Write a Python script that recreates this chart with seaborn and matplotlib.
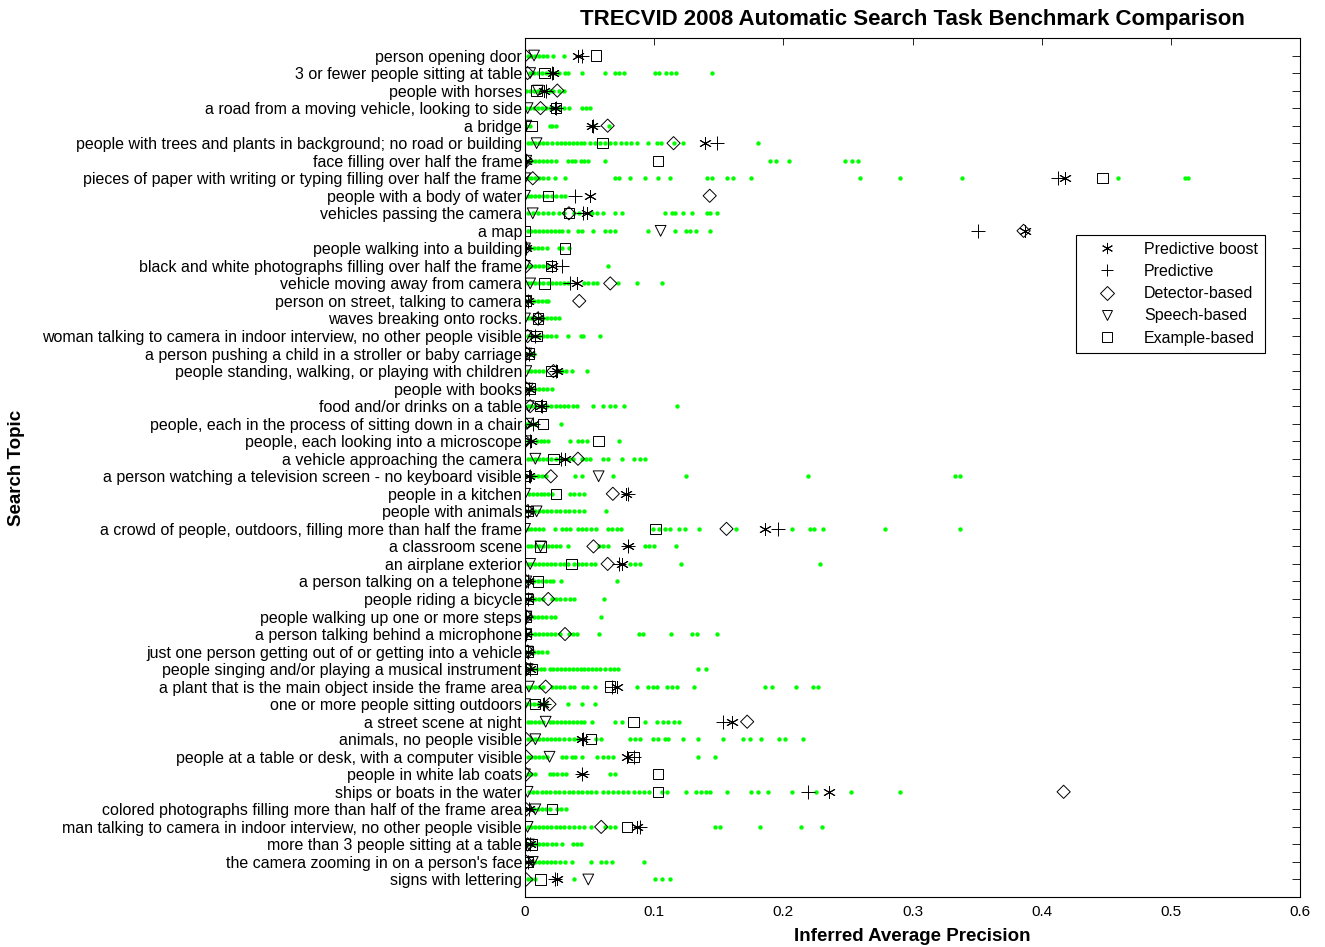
import numpy as np
import pandas as pd
import matplotlib
matplotlib.use("Agg")
import matplotlib.pyplot as plt
from matplotlib.lines import Line2D
import seaborn as sns

topics = [
    "person opening door",
    "3 or fewer people sitting at table",
    "people with horses",
    "a road from a moving vehicle, looking to side",
    "a bridge",
    "people with trees and plants in background; no road or building",
    "face filling over half the frame",
    "pieces of paper with writing or typing filling over half the frame",
    "people with a body of water",
    "vehicles passing the camera",
    "a map",
    "people walking into a building",
    "black and white photographs filling over half the frame",
    "vehicle moving away from camera",
    "person on street, talking to camera",
    "waves breaking onto rocks.",
    "woman talking to camera in indoor interview, no other people visible",
    "a person pushing a child in a stroller or baby carriage",
    "people standing, walking, or playing with children",
    "people with books",
    "food and/or drinks on a table",
    "people, each in the process of sitting down in a chair",
    "people, each looking into a microscope",
    "a vehicle approaching the camera",
    "a person watching a television screen - no keyboard visible",
    "people in a kitchen",
    "people with animals",
    "a crowd of people, outdoors, filling more than half the frame",
    "a classroom scene",
    "an airplane exterior",
    "a person talking on a telephone",
    "people riding a bicycle",
    "people walking up one or more steps",
    "a person talking behind a microphone",
    "just one person getting out of or getting into a vehicle",
    "people singing and/or playing a musical instrument",
    "a plant that is the main object inside the frame area",
    "one or more people sitting outdoors",
    "a street scene at night",
    "animals, no people visible",
    "people at a table or desk, with a computer visible",
    "people in white lab coats",
    "ships or boats in the water",
    "colored photographs filling more than half of the frame area",
    "man talking to camera in indoor interview, no other people visible",
    "more than 3 people sitting at a table",
    "the camera zooming in on a person's face",
    "signs with lettering",
]

predictive_boost = [0.041, 0.022, 0.015, 0.023, 0.052, 0.139, 0.001, 0.418, 0.050, 0.048,
                    0.387, 0.001, 0.021, 0.040, 0.002, 0.010, 0.008, 0.003, 0.025, 0.003,
                    0.012, 0.006, 0.005, 0.031, 0.003, 0.078, 0.002, 0.186, 0.080, 0.075,
                    0.002, 0.002, 0.001, 0.001, 0.002, 0.004, 0.071, 0.014, 0.160, 0.044,
                    0.079, 0.044, 0.235, 0.003, 0.087, 0.004, 0.002, 0.025]
predictive = [0.044, 0.021, 0.016, 0.024, 0.053, 0.149, 0.001, 0.413, 0.039, 0.045,
              0.351, 0.001, 0.029, 0.035, 0.002, 0.010, 0.008, 0.003, 0.024, 0.003,
              0.013, 0.006, 0.004, 0.028, 0.004, 0.080, 0.002, 0.196, 0.080, 0.073,
              0.002, 0.002, 0.001, 0.001, 0.002, 0.004, 0.067, 0.015, 0.153, 0.045,
              0.084, 0.044, 0.219, 0.003, 0.089, 0.004, 0.002, 0.023]
detector_based = [0.000, 0.002, 0.025, 0.012, 0.064, 0.115, 0.001, 0.006, 0.143, 0.034,
                  0.386, 0.000, 0.001, 0.066, 0.042, 0.010, 0.002, 0.001, 0.022, 0.001,
                  0.004, 0.000, 0.000, 0.041, 0.020, 0.068, 0.002, 0.156, 0.053, 0.064,
                  0.001, 0.018, 0.001, 0.031, 0.002, 0.001, 0.016, 0.019, 0.172, 0.001,
                  0.001, 0.001, 0.417, 0.001, 0.059, 0.002, 0.001, 0.001]
speech_based = [0.007, 0.004, 0.010, 0.002, 0.001, 0.009, 0.001, 0.000, 0.000, 0.006,
                0.105, 0.000, 0.000, 0.004, 0.001, 0.000, 0.001, 0.001, 0.001, 0.002,
                0.003, 0.002, 0.001, 0.008, 0.057, 0.000, 0.009, 0.000, 0.012, 0.004,
                0.001, 0.002, 0.001, 0.001, 0.002, 0.002, 0.003, 0.000, 0.016, 0.008,
                0.019, 0.000, 0.002, 0.008, 0.002, 0.003, 0.006, 0.049]
example_based = [0.055, 0.015, 0.009, 0.024, 0.005, 0.060, 0.103, 0.447, 0.018, 0.034,
                 0.000, 0.031, 0.020, 0.015, 0.001, 0.010, 0.009, 0.003, 0.020, 0.004,
                 0.012, 0.014, 0.057, 0.022, 0.001, 0.024, 0.002, 0.101, 0.012, 0.036,
                 0.010, 0.002, 0.001, 0.001, 0.002, 0.005, 0.066, 0.008, 0.084, 0.051,
                 0.084, 0.103, 0.103, 0.021, 0.079, 0.005, 0.002, 0.012]

other_runs = [
    [0.002, 0.005, 0.008, 0.011, 0.014, 0.017, 0.022, 0.030],
    [0.004, 0.007, 0.010, 0.013, 0.016, 0.019, 0.023, 0.026, 0.031, 0.033, 0.044, 0.062, 0.070, 0.073, 0.077, 0.101, 0.104, 0.109, 0.113, 0.117, 0.145],
    [0.001, 0.004, 0.007, 0.010, 0.013, 0.016, 0.019, 0.022, 0.026, 0.030],
    [0.001, 0.004, 0.007, 0.010, 0.013, 0.016, 0.019, 0.022, 0.026, 0.030, 0.034, 0.044, 0.047, 0.050],
    [0.001, 0.004, 0.019, 0.021, 0.024, 0.053, 0.065],
    [0.002, 0.005, 0.008, 0.011, 0.014, 0.017, 0.021, 0.025, 0.028, 0.031, 0.034, 0.037, 0.040, 0.043, 0.046, 0.050, 0.054, 0.058, 0.062, 0.066, 0.070, 0.074, 0.078, 0.082, 0.087, 0.095, 0.102, 0.105, 0.115, 0.122, 0.180],
    [0.002, 0.005, 0.008, 0.011, 0.014, 0.017, 0.020, 0.024, 0.033, 0.036, 0.039, 0.043, 0.046, 0.049, 0.062, 0.190, 0.194, 0.204, 0.248, 0.253, 0.258],
    [0.002, 0.005, 0.008, 0.011, 0.014, 0.018, 0.023, 0.031, 0.070, 0.073, 0.081, 0.093, 0.103, 0.112, 0.141, 0.145, 0.156, 0.161, 0.175, 0.259, 0.290, 0.338, 0.459, 0.511, 0.513],
    [0.002, 0.005, 0.008, 0.011, 0.014, 0.017, 0.021, 0.024, 0.028, 0.031],
    [0.002, 0.006, 0.010, 0.014, 0.018, 0.022, 0.026, 0.030, 0.038, 0.042, 0.052, 0.056, 0.060, 0.070, 0.075, 0.108, 0.114, 0.116, 0.122, 0.129, 0.141, 0.143, 0.149],
    [0.002, 0.005, 0.008, 0.011, 0.014, 0.017, 0.020, 0.023, 0.026, 0.029, 0.033, 0.041, 0.044, 0.053, 0.062, 0.066, 0.070, 0.095, 0.116, 0.125, 0.128, 0.132, 0.143],
    [0.001, 0.004, 0.007, 0.010, 0.013, 0.017, 0.026, 0.029, 0.034],
    [0.002, 0.005, 0.008, 0.011, 0.014, 0.017, 0.064],
    [0.002, 0.005, 0.008, 0.011, 0.014, 0.018, 0.021, 0.024, 0.027, 0.030, 0.033, 0.046, 0.049, 0.053, 0.056, 0.072, 0.087, 0.106],
    [0.001, 0.004, 0.007, 0.010, 0.013, 0.016, 0.018],
    [0.002, 0.005, 0.008, 0.011, 0.014, 0.017, 0.020, 0.023, 0.026],
    [0.002, 0.005, 0.008, 0.011, 0.014, 0.017, 0.020, 0.024, 0.033, 0.043, 0.045, 0.058],
    [0.001, 0.003, 0.005, 0.007],
    [0.002, 0.005, 0.008, 0.011, 0.014, 0.026, 0.029, 0.032, 0.036, 0.048],
    [0.002, 0.005, 0.008, 0.011, 0.014, 0.017, 0.021],
    [0.002, 0.005, 0.008, 0.011, 0.014, 0.017, 0.020, 0.024, 0.027, 0.030, 0.033, 0.037, 0.040, 0.053, 0.060, 0.066, 0.070, 0.077, 0.118],
    [0.001, 0.003, 0.005, 0.008, 0.028],
    [0.002, 0.005, 0.009, 0.012, 0.015, 0.018, 0.035, 0.041, 0.044, 0.048, 0.073],
    [0.002, 0.005, 0.008, 0.011, 0.014, 0.017, 0.020, 0.024, 0.027, 0.034, 0.037, 0.044, 0.047, 0.050, 0.060, 0.064, 0.075, 0.084, 0.089, 0.093],
    [0.001, 0.004, 0.007, 0.010, 0.013, 0.016, 0.039, 0.044, 0.068, 0.125, 0.219, 0.333, 0.337],
    [0.003, 0.006, 0.009, 0.012, 0.015, 0.018, 0.021, 0.035, 0.038, 0.042, 0.046],
    [0.002, 0.005, 0.008, 0.011, 0.014, 0.017, 0.020, 0.024, 0.027, 0.031, 0.034, 0.038, 0.042, 0.046, 0.063],
    [0.002, 0.005, 0.008, 0.011, 0.014, 0.023, 0.029, 0.032, 0.035, 0.041, 0.044, 0.047, 0.051, 0.055, 0.064, 0.067, 0.071, 0.074, 0.099, 0.104, 0.108, 0.112, 0.119, 0.124, 0.135, 0.163, 0.207, 0.221, 0.224, 0.231, 0.279, 0.337],
    [0.002, 0.005, 0.008, 0.011, 0.014, 0.018, 0.021, 0.024, 0.027, 0.033, 0.057, 0.060, 0.064, 0.093, 0.096, 0.100, 0.117],
    [0.002, 0.005, 0.008, 0.011, 0.014, 0.017, 0.020, 0.023, 0.027, 0.030, 0.033, 0.038, 0.041, 0.044, 0.047, 0.051, 0.054, 0.081, 0.085, 0.089, 0.121, 0.228],
    [0.001, 0.004, 0.007, 0.010, 0.013, 0.016, 0.019, 0.022, 0.028, 0.071],
    [0.002, 0.005, 0.008, 0.011, 0.014, 0.021, 0.024, 0.027, 0.031, 0.035, 0.038, 0.061],
    [0.001, 0.004, 0.007, 0.010, 0.013, 0.016, 0.020, 0.023, 0.059],
    [0.002, 0.005, 0.008, 0.011, 0.014, 0.017, 0.020, 0.023, 0.027, 0.034, 0.037, 0.040, 0.057, 0.088, 0.091, 0.113, 0.129, 0.133, 0.149],
    [0.001, 0.004, 0.007, 0.010, 0.013, 0.017],
    [0.003, 0.006, 0.009, 0.012, 0.015, 0.019, 0.022, 0.025, 0.028, 0.031, 0.034, 0.037, 0.040, 0.043, 0.046, 0.049, 0.052, 0.055, 0.058, 0.062, 0.066, 0.069, 0.072, 0.134, 0.140],
    [0.002, 0.005, 0.008, 0.011, 0.014, 0.021, 0.024, 0.027, 0.030, 0.035, 0.038, 0.045, 0.048, 0.054, 0.087, 0.095, 0.099, 0.102, 0.110, 0.114, 0.118, 0.131, 0.186, 0.191, 0.210, 0.223, 0.227],
    [0.001, 0.004, 0.007, 0.010, 0.013, 0.016, 0.033, 0.044, 0.054],
    [0.002, 0.005, 0.008, 0.011, 0.014, 0.019, 0.022, 0.025, 0.028, 0.031, 0.034, 0.037, 0.040, 0.043, 0.046, 0.052, 0.070, 0.075, 0.093, 0.102, 0.107, 0.111, 0.115, 0.119],
    [0.002, 0.005, 0.008, 0.011, 0.014, 0.017, 0.020, 0.023, 0.026, 0.030, 0.034, 0.038, 0.041, 0.055, 0.059, 0.081, 0.085, 0.089, 0.099, 0.103, 0.108, 0.111, 0.122, 0.134, 0.153, 0.169, 0.174, 0.183, 0.197, 0.201, 0.215],
    [0.002, 0.005, 0.008, 0.011, 0.014, 0.017, 0.029, 0.032, 0.036, 0.039, 0.044, 0.056, 0.060, 0.064, 0.068, 0.134, 0.147],
    [0.002, 0.005, 0.008, 0.019, 0.022, 0.025, 0.029, 0.032, 0.066, 0.070],
    [0.003, 0.006, 0.009, 0.013, 0.016, 0.019, 0.023, 0.026, 0.030, 0.034, 0.037, 0.041, 0.044, 0.048, 0.051, 0.055, 0.060, 0.064, 0.068, 0.072, 0.076, 0.080, 0.084, 0.088, 0.092, 0.096, 0.106, 0.110, 0.125, 0.132, 0.136, 0.140, 0.143, 0.156, 0.175, 0.180, 0.188, 0.207, 0.225, 0.252, 0.290],
    [0.001, 0.004, 0.007, 0.010, 0.013, 0.016, 0.019, 0.025, 0.028, 0.032],
    [0.002, 0.005, 0.008, 0.011, 0.014, 0.017, 0.020, 0.024, 0.027, 0.030, 0.034, 0.038, 0.042, 0.046, 0.051, 0.062, 0.066, 0.070, 0.147, 0.151, 0.182, 0.214, 0.230],
    [0.002, 0.005, 0.008, 0.011, 0.014, 0.017, 0.021, 0.024, 0.029, 0.037, 0.040, 0.043],
    [0.002, 0.005, 0.008, 0.011, 0.014, 0.017, 0.020, 0.023, 0.027, 0.031, 0.036, 0.051, 0.059, 0.063, 0.067, 0.092],
    [0.002, 0.005, 0.008, 0.038, 0.101, 0.106, 0.112],
]

x_ticks = [0, 0.1, 0.2, 0.3, 0.4, 0.5, 0.6]
x_tick_labels = ["0", "0.1", "0.2", "0.3", "0.4", "0.5", "0.6"]

# ---------------------------------------------------------------------------
sns.set_theme(style="white")
plt.rcParams["font.family"] = ["Liberation Sans", "DejaVu Sans"]
plt.rcParams.update({
    "text.color": "black", "axes.labelcolor": "black",
    "xtick.color": "black", "ytick.color": "black",
    "xtick.direction": "in", "ytick.direction": "in",
    "xtick.top": True, "ytick.right": True,
    "xtick.major.size": 5, "ytick.major.size": 6,
    "xtick.major.width": 0.6, "ytick.major.width": 0.6,
    "axes.edgecolor": "black", "axes.linewidth": 0.8,
})

pos = np.arange(1, len(topics) + 1)
green_df = pd.DataFrame({
    "score": [v for row in other_runs for v in row],
    "topic": [p for p, row in zip(pos, other_runs) for _ in row],
})

fig = plt.figure(figsize=(13.25, 9.47), dpi=100)
ax = fig.add_axes([525 / 1325, 1 - 897 / 947, 775 / 1325, 859 / 947])

sns.scatterplot(data=green_df, x="score", y="topic", ax=ax, color="#00ff00",
                marker="o", s=10, linewidth=0, legend=False, zorder=2)

asterisk = (6, 2, 0)
methods = [
    ("Predictive boost", predictive_boost, asterisk, 75, True),
    ("Predictive", predictive, "+", 90, True),
    ("Detector-based", detector_based, "D", 45, False),
    ("Speech-based", speech_based, "v", 60, False),
    ("Example-based", example_based, "s", 55, False),
]
handles = []
for name, vals, mk, size, line_marker in methods:
    df = pd.DataFrame({"score": vals, "topic": pos})
    if line_marker:
        sns.scatterplot(data=df, x="score", y="topic", ax=ax, marker=mk, s=size,
                        color="black", linewidth=0.7, legend=False, zorder=3)
        handles.append(Line2D([], [], linestyle="none", marker=mk, markersize=8,
                              color="black", markeredgewidth=0.7, label=name))
    else:
        sns.scatterplot(data=df, x="score", y="topic", ax=ax, marker=mk, s=size,
                        facecolor="none", edgecolor="black", linewidth=0.7,
                        legend=False, zorder=3)
        handles.append(Line2D([], [], linestyle="none", marker=mk, markersize=7,
                              markerfacecolor="none", markeredgecolor="black",
                              markeredgewidth=0.7, label=name))

ax.set_xlim(0, 0.6)
ax.set_ylim(49.0, 0.0)
ax.set_xticks(x_ticks)
ax.set_xticklabels(x_tick_labels, fontsize=11)
ax.set_yticks(pos)
ax.set_yticklabels(topics, fontsize=11.5)
ax.tick_params(axis="y", pad=2)
ax.tick_params(axis="x", pad=6)

ax.set_xlabel("Inferred Average Precision", fontsize=13.5, fontweight="bold", labelpad=6)
ax.set_ylabel("Search Topic", fontsize=13.5, fontweight="bold")
ax.yaxis.set_label_coords(-0.645, 0.5)
ax.set_title("TRECVID 2008 Automatic Search Task Benchmark Comparison",
             fontsize=16, fontweight="bold", pad=9)

leg = ax.legend(handles=handles, loc="upper right", bbox_to_anchor=(0.955, 0.771),
                borderaxespad=0, fontsize=11.5, frameon=True, fancybox=False,
                framealpha=1, edgecolor="black", handlelength=3.0, handletextpad=0.8,
                labelspacing=0.45, borderpad=0.45)
leg.get_frame().set_linewidth(0.8)

fig.savefig("out.png", dpi=100)
